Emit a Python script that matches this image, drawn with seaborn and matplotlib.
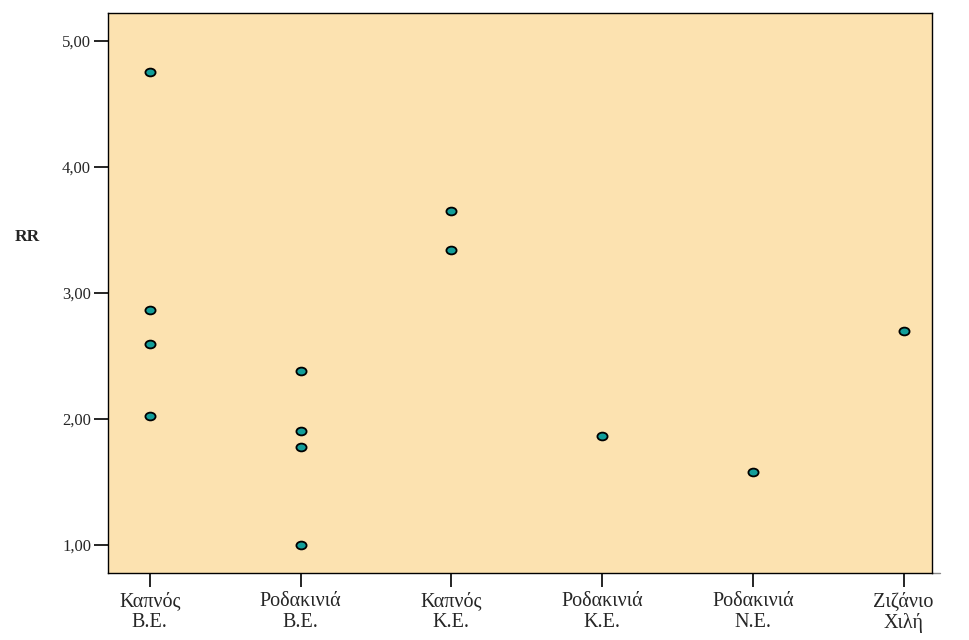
import matplotlib.pyplot as plt
import pandas as pd
import seaborn as sns
from matplotlib.path import Path
from matplotlib.transforms import Affine2D
from matplotlib.ticker import FixedLocator, FuncFormatter

sns.set_theme(style="white")
plt.rcParams["font.family"] = ["Liberation Serif", "DejaVu Serif"]

# Categories (x axis) and RR values
categories = ["Καπνός\nΒ.Ε.", "Ροδακινιά\nΒ.Ε.", "Καπνός\nΚ.Ε.",
              "Ροδακινιά\nΚ.Ε.", "Ροδακινιά\nΝ.Ε.", "Ζιζάνιο\nΧιλή"]
kapnos_be = [4.75, 2.86, 2.59, 2.02]
rodakinia_be = [2.38, 1.90, 1.78, 1.00]
kapnos_ke = [3.65, 3.34]
rodakinia_ke = [1.86]
rodakinia_ne = [1.58]
zizanio = [2.70]

groups = [kapnos_be, rodakinia_be, kapnos_ke, rodakinia_ke, rodakinia_ne, zizanio]
df = pd.DataFrame({
    "group": [c for c, g in zip(categories, groups) for _ in g],
    "RR": [v for g in groups for v in g],
})

# slightly flattened circle, like the SPSS markers
ellipse = Path.unit_circle().transformed(Affine2D().scale(1.3, 1.0))

fig, ax = plt.subplots(figsize=(9.7, 6.4), dpi=100)
fig.subplots_adjust(left=0.111, right=0.961, top=0.980, bottom=0.105)

sns.stripplot(data=df, x="group", y="RR", order=categories, jitter=False,
              color="#129E9A", edgecolor="black", linewidth=1.3, size=7.3,
              marker=ellipse, ax=ax)

ax.set_facecolor("#FCE2B0")
ax.set_xlim(-0.28, 5.19)
ax.set_ylim(0.778, 5.222)
ax.yaxis.set_major_locator(FixedLocator([1, 2, 3, 4, 5]))
ax.yaxis.set_major_formatter(FuncFormatter(lambda v, p: f"{v:.2f}".replace(".", ",")))

for s in ax.spines.values():
    s.set_color("black")
    s.set_linewidth(1.0)
# short grey stub of the x axis line past the frame
ax.plot([1, 1.01], [0, 0], transform=ax.transAxes, color="#888888",
        lw=1.0, clip_on=False)

ax.tick_params(axis="both", which="major", direction="out", length=10, width=1.2,
               color="black", bottom=True, left=True)
ax.tick_params(axis="y", labelsize=12, pad=2)
ax.tick_params(axis="x", labelsize=14.5, pad=4)
ax.set_xticks(range(len(categories)))
ax.set_xticklabels(categories, linespacing=1.1)

ax.set_xlabel("")
ax.set_ylabel("RR", rotation=0, fontsize=12.5, fontweight="bold")
ax.yaxis.set_label_coords(-0.098, 0.585)

plt.savefig("out.png", dpi=100)
